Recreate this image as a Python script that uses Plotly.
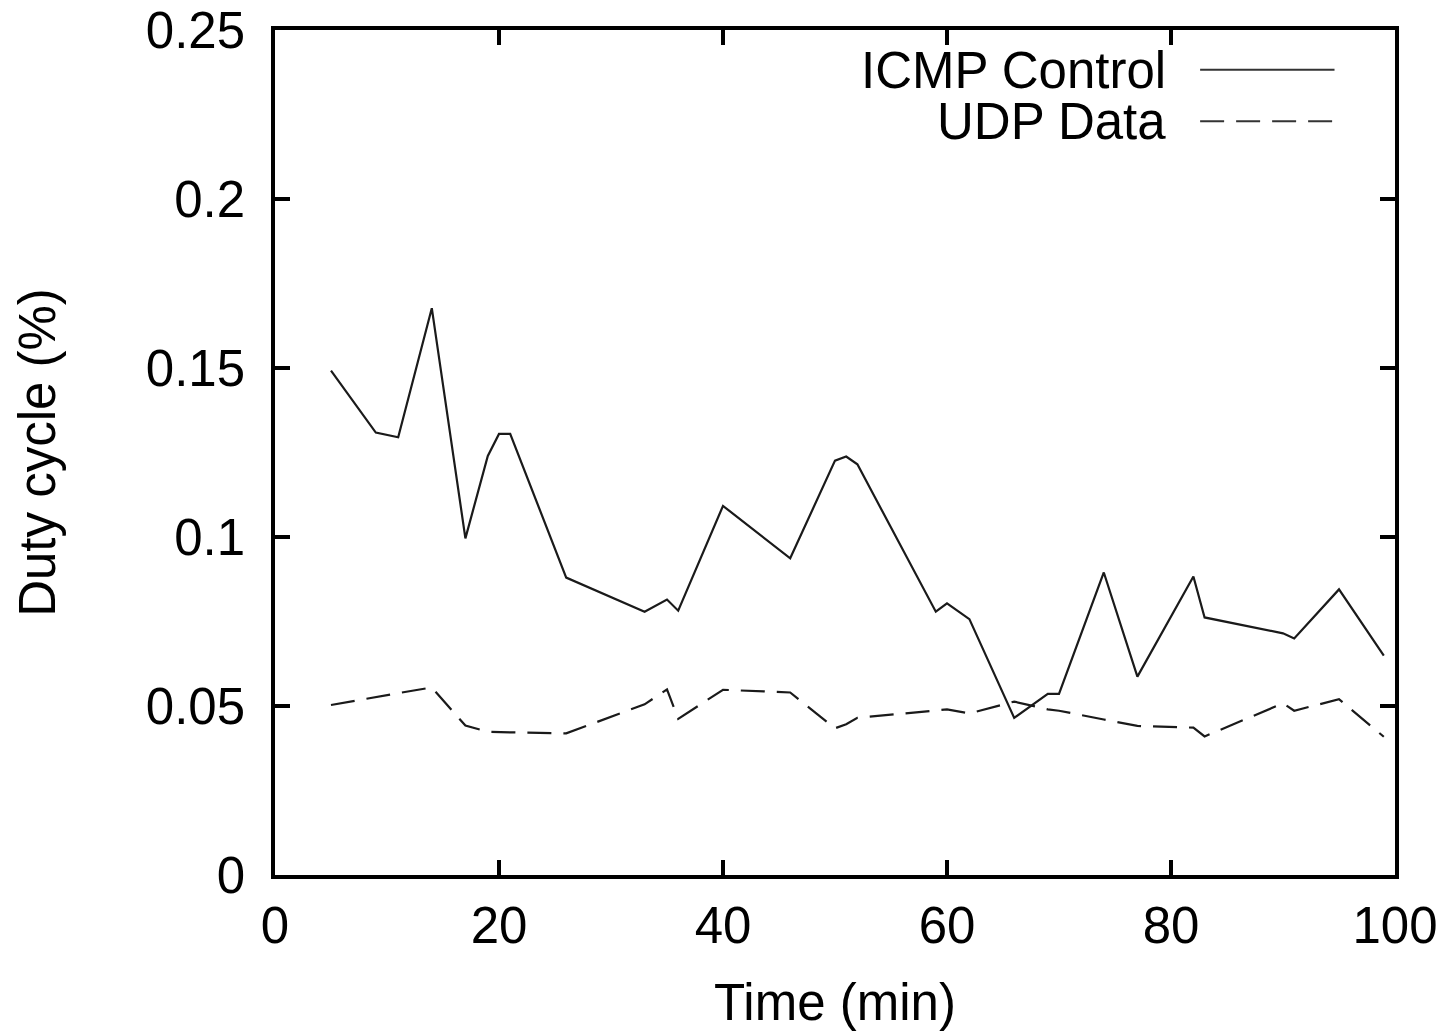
import plotly.graph_objects as go

time_min = [5, 9, 11, 14, 17, 19, 20, 21, 26, 33, 35, 36, 40, 46, 50, 51, 52,
            59, 60, 62, 66, 69, 70, 74, 77, 82, 83, 90, 91, 95, 99]
icmp_control = [0.1492, 0.1309, 0.1295, 0.1677, 0.0996, 0.1240, 0.1305, 0.1305,
                0.0880, 0.0779, 0.0815, 0.0782, 0.1092, 0.0937, 0.1226, 0.1238,
                0.1215, 0.0779, 0.0804, 0.0757, 0.0465, 0.0536, 0.0536, 0.0895,
                0.0587, 0.0883, 0.0762, 0.0715, 0.0700, 0.0845, 0.0649]
udp_data = [0.0503, 0.0525, 0.0538, 0.0555, 0.0442, 0.0424, 0.0422, 0.0422,
            0.0419, 0.0505, 0.0549, 0.0462, 0.0548, 0.0540, 0.0434, 0.0446,
            0.0465, 0.0488, 0.0490, 0.0478, 0.0513, 0.0490, 0.0486, 0.0460,
            0.0441, 0.0436, 0.0410, 0.0508, 0.0486, 0.0520, 0.0409]

x_ticks = [0, 20, 40, 60, 80, 100]
y_ticks = [0, 0.05, 0.1, 0.15, 0.2, 0.25]
y_tick_labels = ["0", "0.05", "0.1", "0.15", "0.2", "0.25"]
series_names = ["ICMP Control", "UDP Data"]

FONT = "Liberation Sans, Arial, sans-serif"
FS = 51
DASH = "24px,12px"

fig = go.Figure()
fig.add_trace(go.Scatter(x=time_min, y=icmp_control, mode="lines", name=series_names[0],
                         line=dict(color="#1a1a1a", width=2.2), showlegend=False))
fig.add_trace(go.Scatter(x=time_min, y=udp_data, mode="lines", name=series_names[1],
                         line=dict(color="#1a1a1a", width=2.2, dash=DASH), showlegend=False))

# legend drawn gnuplot-style: text on the left, line sample on the right
legend_y = [0.953, 0.892]
dashes = [None, DASH]
for name, ly, d in zip(series_names, legend_y, dashes):
    fig.add_annotation(x=0.797, y=ly, xref="paper", yref="paper", text=name,
                       showarrow=False, xanchor="right", yanchor="middle",
                       height=46, valign="middle",
                       font=dict(family=FONT, size=FS, color="black"))
    fig.add_shape(type="line", xref="paper", yref="paper", x0=0.826, x1=0.946,
                  y0=ly, y1=ly, line=dict(color="#333333", width=2, dash=d))

axis_common = dict(
    showline=True, linecolor="black", linewidth=3.5, mirror="allticks",
    ticks="inside", ticklen=15, tickwidth=3.5, tickcolor="black",
    showgrid=False, zeroline=False, automargin=False,
    tickfont=dict(family=FONT, size=FS, color="black"),
)

fig.update_xaxes(range=[0, 100], tickvals=x_ticks, ticklabelstandoff=3,
                 title=dict(text="Time (min)", font=dict(family=FONT, size=FS, color="black"),
                            standoff=35),
                 **axis_common)
fig.update_yaxes(range=[0, 0.25], tickvals=y_ticks, ticktext=y_tick_labels,
                 ticklabelstandoff=16,
                 title=dict(text="Duty cycle (%)", font=dict(family=FONT, size=FS, color="black"),
                            standoff=75),
                 **axis_common)

fig.update_layout(
    width=1448, height=1031,
    margin=dict(l=275, r=53, t=30, b=156),
    paper_bgcolor="white", plot_bgcolor="white",
    font=dict(family=FONT, color="black"),
)

fig.write_html("out.html")
